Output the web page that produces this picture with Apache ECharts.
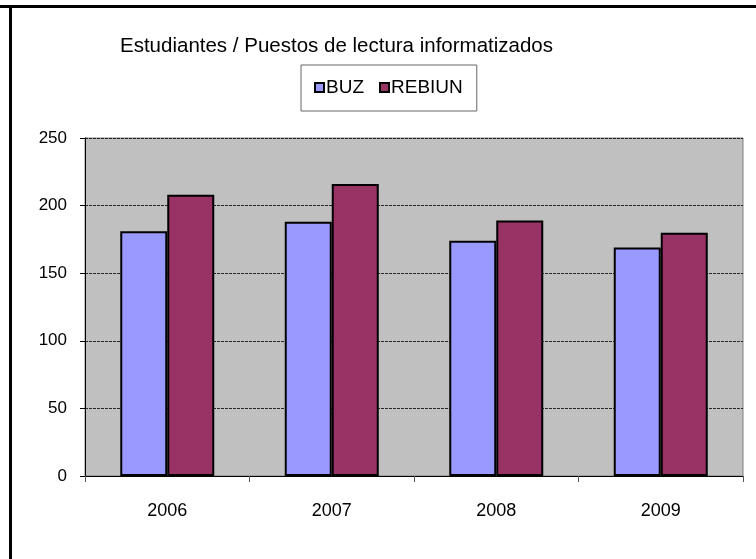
<!DOCTYPE html>
<html lang="es">
<head>
    <meta charset="UTF-8">
    <title>Estudiantes / Puestos de lectura informatizados</title>
    <script src="https://cdn.jsdelivr.net/npm/echarts@6/dist/echarts.min.js"></script>
    <style>
        html, body { margin: 0; padding: 0; background: #fff; }
        #main { width: 756px; height: 559px; }
    </style>
</head>
<body>
    <div id="main"></div>
    <script>
        // datos
        var years = ['2006', '2007', '2008', '2009'];
        var buz = [181, 188, 174, 169];
        var rebiun = [208, 216, 189, 180];
        var yTicks = [0, 50, 100, 150, 200, 250];

        var font = '"Liberation Sans", Arial, sans-serif';
        var chart = echarts.init(document.getElementById('main'));

        chart.setOption({
            animation: false,
            backgroundColor: '#fff',
            title: {
                text: 'Estudiantes / Puestos de lectura informatizados',
                left: 115,
                top: 31,
                textStyle: { fontFamily: font, fontSize: 20.5, fontWeight: 'normal', color: '#000' }
            },
            legend: {
                data: ['BUZ', 'REBIUN'],
                left: 301,
                top: 65,
                padding: [13, 14, 14, 13],
                borderColor: '#666',
                borderWidth: 1,
                icon: 'rect',
                itemWidth: 9,
                itemHeight: 9,
                itemGap: 15,
                textStyle: { fontFamily: font, fontSize: 19, color: '#000', padding: [0, 0, 0, -3] }
            },
            grid: {
                left: 85, right: 13, top: 138, bottom: 83,
                show: true,
                backgroundColor: '#C0C0C0',
                borderColor: '#808080',
                borderWidth: 1
            },
            xAxis: {
                type: 'category',
                data: years,
                axisLine: { lineStyle: { color: '#000', width: 1 } },
                axisTick: { show: true, length: 6, lineStyle: { color: '#555' } },
                axisLabel: { margin: 26, fontFamily: font, fontSize: 18, color: '#000' }
            },
            yAxis: {
                type: 'value',
                min: yTicks[0],
                max: yTicks[yTicks.length - 1],
                interval: 50,
                axisLine: { show: true, lineStyle: { color: '#000', width: 1 } },
                axisTick: { show: true, length: 5, lineStyle: { color: '#000' } },
                axisLabel: { margin: 18, fontFamily: font, fontSize: 17, color: '#000' },
                splitLine: { lineStyle: { color: '#000', type: [3, 1], width: 1, opacity: 0.8 } }
            },
            series: [
                {
                    name: 'BUZ',
                    type: 'bar',
                    data: buz,
                    barWidth: 47,
                    barGap: '0%',
                    itemStyle: { color: '#9999FF', borderColor: '#000', borderWidth: 2 }
                },
                {
                    name: 'REBIUN',
                    type: 'bar',
                    data: rebiun,
                    barWidth: 47,
                    barGap: '0%',
                    itemStyle: { color: '#993366', borderColor: '#000', borderWidth: 2 }
                }
            ],
            graphic: [
                { type: 'rect', shape: { x: 0, y: 5, width: 756, height: 3 }, style: { fill: '#000' } },
                { type: 'rect', shape: { x: 9, y: 5, width: 3, height: 554 }, style: { fill: '#000' } }
            ]
        });
    </script>
</body>
</html>
